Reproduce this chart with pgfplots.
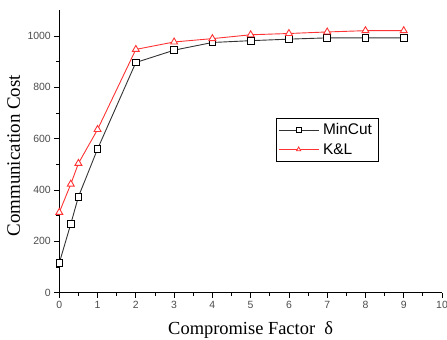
\documentclass[border=0pt]{standalone}
\usepackage{pgfplots}
\pgfplotsset{compat=1.18}
\usepackage{fontspec}
\setmainfont{Liberation Sans}
\newfontfamily\seriffont{Liberation Serif}
\definecolor{klred}{HTML}{FF3333}
\definecolor{mcgray}{HTML}{333333}
\begin{document}
\begin{tikzpicture}
\begin{axis}[
  scale only axis,
  width=382.7bp, height=282.3bp,
  at={(0,0)}, anchor=south west,
  xmin=0, xmax=10, ymin=0, ymax=1100,
  axis lines=left,
  axis line style={-, line width=0.8bp},
  xtick={0,1,...,10},
  ytick={0,200,...,1000},
  minor x tick num=1,
  minor y tick num=1,
  tick align=outside,
  major tick length=5bp,
  minor tick length=3.5bp,
  tick style={line width=0.8bp, black},
  /pgf/number format/assume math mode=true,
  /pgf/number format/1000 sep={},
  ticklabel style={font=\fontsize{10.5}{12}\selectfont, text=black!70},
  xlabel={Compromise Factor\ \ δ},
  ylabel={Communication Cost},
  xlabel style={font=\seriffont\fontsize{18.5}{20}\selectfont,
    at={(rel axis cs:0.5,0)}, anchor=base, yshift=-41.3bp},
  ylabel style={font=\seriffont\fontsize{19}{20}\selectfont,
    at={(rel axis cs:0,0.485)}, anchor=base, yshift=39.3bp},
  legend style={at={(rel axis cs:0.566,0.619)}, anchor=north west,
    draw=black, line width=0.6bp, fill=white, inner xsep=2bp, inner ysep=3.5bp,
    font=\fontsize{15.5}{17}\selectfont, row sep=3bp,
    nodes={inner xsep=4bp}},
  legend cell align=left,
  legend image code/.code={
    \draw[#1, mark=none] (0bp,0bp) -- (40bp,0bp);
    \draw[#1, mark size=2.5bp, line width=0.8bp] plot coordinates {(20bp,0bp)};
  },
]
\addplot[mcgray, line width=0.9bp, mark=square*, mark size=3.3bp,
  mark options={fill=white, draw=black, solid}]
  coordinates {(0,116) (0.3,268) (0.5,374) (1,560) (2,897) (3,945) (4,975)
               (5,982) (6,988) (7,993) (8,993) (9,993)};
\addlegendentry{MinCut}
\addplot[klred, line width=0.9bp, mark=triangle*, mark size=4bp,
  mark options={fill=white, draw=klred, solid}]
  coordinates {(0,313) (0.3,423) (0.5,504) (1,636) (2,948) (3,977) (4,990)
               (5,1005) (6,1010) (7,1016) (8,1021) (9,1021)};
\addlegendentry{K\&L}
\end{axis}
\pgfresetboundingbox
\path (-59.3bp,-47.3bp) rectangle (387.7bp,292.7bp);
\end{tikzpicture}
\end{document}
